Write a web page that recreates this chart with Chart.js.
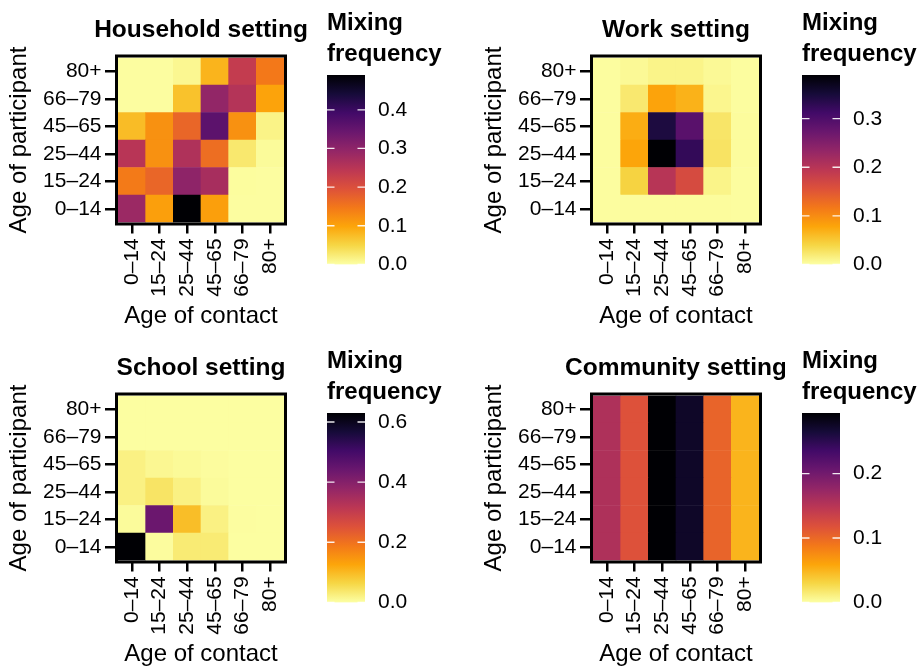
<!DOCTYPE html>
<html>
<head>
<meta charset="utf-8">
<title>Mixing frequency by setting</title>
<script src="https://cdn.jsdelivr.net/npm/chart.js@4.4.1/dist/chart.umd.min.js"></script>
<style>
  html, body { margin: 0; padding: 0; background: #fff; }
  #page { position: relative; width: 921px; height: 668px; overflow: hidden; background: #fff; }
  .panel { position: absolute; width: 460px; height: 340px; }
  .panel canvas { position: absolute; }
</style>
</head>
<body>
<div id="page"></div>
<script>
// Age bands used for both participant (rows) and contact (columns)
const ageGroups = ['0–14', '15–24', '25–44', '45–65', '66–79', '80+'];

// Mixing frequency matrices: one row per participant age band (0–14 first),
// one column per contact age band.
const household = [
  [0.285, 0.105, 0.490, 0.105, 0.002, 0.002],
  [0.145, 0.170, 0.300, 0.270, 0.003, 0.002],
  [0.250, 0.120, 0.260, 0.160, 0.028, 0.005],
  [0.075, 0.120, 0.170, 0.360, 0.120, 0.015],
  [0.002, 0.002, 0.070, 0.295, 0.255, 0.100],
  [0.002, 0.002, 0.010, 0.083, 0.235, 0.147]
];
const work = [
  [0.002, 0.003, 0.003, 0.003, 0.003, 0.002],
  [0.002, 0.042, 0.200, 0.165, 0.011, 0.002],
  [0.002, 0.078, 0.390, 0.325, 0.027, 0.003],
  [0.002, 0.072, 0.345, 0.290, 0.025, 0.003],
  [0.002, 0.022, 0.080, 0.068, 0.009, 0.002],
  [0.002, 0.006, 0.011, 0.011, 0.006, 0.002]
];
const school = [
  [0.630, 0.004, 0.032, 0.032, 0.002, 0.002],
  [0.006, 0.440, 0.095, 0.022, 0.003, 0.002],
  [0.022, 0.042, 0.022, 0.006, 0.002, 0.002],
  [0.022, 0.012, 0.008, 0.004, 0.002, 0.002],
  [0.002, 0.002, 0.002, 0.002, 0.002, 0.002],
  [0.002, 0.002, 0.002, 0.002, 0.002, 0.002]
];
const community = [
  [0.157, 0.118, 0.294, 0.274, 0.103, 0.050],
  [0.157, 0.118, 0.294, 0.274, 0.103, 0.050],
  [0.157, 0.118, 0.294, 0.274, 0.103, 0.050],
  [0.157, 0.118, 0.294, 0.274, 0.103, 0.050],
  [0.157, 0.118, 0.294, 0.274, 0.103, 0.050],
  [0.157, 0.118, 0.294, 0.274, 0.103, 0.050]
];

// Colour-bar tick values for each setting
const householdTicks = [0, 0.1, 0.2, 0.3, 0.4];
const workTicks = [0, 0.1, 0.2, 0.3];
const schoolTicks = [0, 0.2, 0.4, 0.6];
const communityTicks = [0, 0.1, 0.2];

// Inferno palette, light end first (low frequency) to dark end (high frequency)
const palette = ['#FCFFA4', '#F6D746', '#FCA50A', '#F37819', '#DD513A', '#BC3754',
                 '#932667', '#6A176E', '#420A68', '#160B39', '#000004'];

const FONT = '"Liberation Sans", Arial, Helvetica, sans-serif';
Chart.defaults.font.family = FONT;
Chart.defaults.color = '#000';

function hexToRgb(h) {
  const n = parseInt(h.slice(1), 16);
  return [(n >> 16) & 255, (n >> 8) & 255, n & 255];
}
const paletteRgb = palette.map(hexToRgb);

function mixColor(t) {
  t = Math.max(0, Math.min(1, t));
  const pos = t * (paletteRgb.length - 1);
  const i = Math.min(Math.floor(pos), paletteRgb.length - 2);
  const f = pos - i;
  const a = paletteRgb[i], b = paletteRgb[i + 1];
  const c = a.map((v, k) => Math.round(v + (b[k] - v) * f));
  return `rgb(${c[0]},${c[1]},${c[2]})`;
}

// Black frame around the plotting area
const framePlugin = {
  id: 'frame',
  afterDatasetsDraw(chart) {
    const { ctx, chartArea: a } = chart;
    ctx.save();
    ctx.strokeStyle = '#000';
    ctx.lineWidth = 3;
    ctx.strokeRect(a.left - 1.5, a.top - 1.5, a.width + 3, a.height + 3);
    ctx.restore();
  }
};

// Panel heading centred over the plotting area
const headingPlugin = {
  id: 'heading',
  afterDraw(chart, args, opts) {
    const { ctx, chartArea: a } = chart;
    ctx.save();
    ctx.font = 'bold 24.5px ' + FONT;
    ctx.fillStyle = '#000';
    ctx.textAlign = 'center';
    ctx.textBaseline = 'alphabetic';
    ctx.fillText(opts.text, (a.left + a.right) / 2, a.top - 20.5);
    ctx.restore();
  }
};

// Short white marks across the colour bar at each tick
const barTickPlugin = {
  id: 'barTicks',
  afterDatasetsDraw(chart) {
    const { ctx, chartArea: a } = chart;
    const ys = chart.scales.y;
    ctx.save();
    ctx.strokeStyle = 'rgba(255,255,255,0.9)';
    ctx.lineWidth = 1.3;
    ys.ticks.forEach(t => {
      const y = ys.getPixelForValue(t.value);
      ctx.beginPath();
      ctx.moveTo(a.left, y); ctx.lineTo(a.left + 7.5, y);
      ctx.moveTo(a.right - 7.5, y); ctx.lineTo(a.right, y);
      ctx.stroke();
    });
    ctx.restore();
  }
};

const panels = [
  { title: 'Household setting', values: household, ticks: householdTicks, left: 0, top: 0 },
  { title: 'Work setting', values: work, ticks: workTicks, left: 475, top: 0 },
  { title: 'School setting', values: school, ticks: schoolTicks, left: 0, top: 338 },
  { title: 'Community setting', values: community, ticks: communityTicks, left: 475, top: 338 }
];

const page = document.getElementById('page');

function makeCanvas(box, left, top, w, h) {
  const c = document.createElement('canvas');
  c.width = w; c.height = h;
  c.style.left = left + 'px'; c.style.top = top + 'px';
  c.style.width = w + 'px'; c.style.height = h + 'px';
  box.appendChild(c);
  return c;
}

panels.forEach(p => {
  const box = document.createElement('div');
  box.className = 'panel';
  box.style.left = p.left + 'px';
  box.style.top = p.top + 'px';
  page.appendChild(box);

  const vmax = Math.max(...p.values.flat());

  // Heat map: one floating-bar dataset per participant age band
  new Chart(makeCanvas(box, 0, 0, 310, 338), {
    type: 'bar',
    data: {
      labels: ageGroups,
      datasets: p.values.map((row, r) => ({
        label: ageGroups[r],
        data: ageGroups.map(() => [r - 0.5, r + 0.5]),
        backgroundColor: row.map(v => mixColor(v / vmax)),
        borderWidth: 0,
        grouped: false,
        barPercentage: 1,
        categoryPercentage: 1
      }))
    },
    options: {
      responsive: false,
      devicePixelRatio: 1,
      animation: false,
      events: [],
      layout: { padding: { left: 0, right: 26, top: 57.5, bottom: 7 } },
      plugins: {
        legend: { display: false },
        tooltip: { enabled: false },
        heading: { text: p.title }
      },
      scales: {
        x: {
          type: 'category',
          offset: true,
          grid: { offset: false, drawOnChartArea: false, drawTicks: true, tickLength: 11, color: '#000', lineWidth: 2.5 },
          border: { display: false },
          ticks: { autoSkip: false, minRotation: 90, maxRotation: 90, padding: 4.8, color: '#000', font: { size: 21 } },
          title: { display: true, text: 'Age of contact', color: '#000', font: { size: 24 }, padding: { top: 0, bottom: 0 } },
          afterFit: s => { s.height = 108.5; }
        },
        y: {
          type: 'linear',
          min: -0.5,
          max: 5.5,
          afterBuildTicks: s => { s.ticks = ageGroups.map((_, i) => ({ value: i })); },
          grid: { drawOnChartArea: false, drawTicks: true, tickLength: 13, color: '#000', lineWidth: 2.5 },
          border: { display: false },
          ticks: { autoSkip: false, padding: 3.5, color: '#000', font: { size: 21 }, callback: v => ageGroups[v] },
          title: { display: true, text: 'Age of participant', color: '#000', font: { size: 24 }, padding: { top: 5.3, bottom: 0 } },
          afterFit: s => { s.width = 118; }
        }
      }
    },
    plugins: [framePlugin, headingPlugin]
  });

  // Colour bar: a single floating bar from 0 to the maximum frequency
  new Chart(makeCanvas(box, 320, 0, 135, 290), {
    type: 'bar',
    data: {
      labels: [''],
      datasets: [{
        data: [[0, vmax]],
        backgroundColor(c) {
          const ch = c.chart, ys = ch.scales.y;
          if (!ch.chartArea || !ys) return '#fff';
          const g = ch.ctx.createLinearGradient(0, ys.getPixelForValue(0), 0, ys.getPixelForValue(vmax));
          palette.forEach((col, i) => g.addColorStop(i / (palette.length - 1), col));
          return g;
        },
        borderWidth: 0,
        barPercentage: 1,
        categoryPercentage: 1
      }]
    },
    options: {
      responsive: false,
      devicePixelRatio: 1,
      animation: false,
      events: [],
      layout: { padding: { left: 7, right: 0, top: 0, bottom: 20 } },
      plugins: {
        legend: { display: false },
        tooltip: { enabled: false },
        title: {
          display: true,
          text: ['Mixing', 'frequency'],
          align: 'start',
          color: '#000',
          font: { size: 24, weight: 'bold', lineHeight: 1.3 },
          padding: { top: 8, bottom: 4.6 }
        }
      },
      scales: {
        x: { display: false },
        y: {
          position: 'right',
          min: 0,
          max: vmax,
          afterBuildTicks: s => { s.ticks = p.ticks.map(v => ({ value: v })); },
          grid: { display: false, drawTicks: false },
          border: { display: false },
          ticks: { padding: 13, color: '#000', font: { size: 21 }, callback: v => v.toFixed(1) },
          afterFit: s => { s.width = 90; }
        }
      }
    },
    plugins: [barTickPlugin]
  });
});
</script>
</body>
</html>
